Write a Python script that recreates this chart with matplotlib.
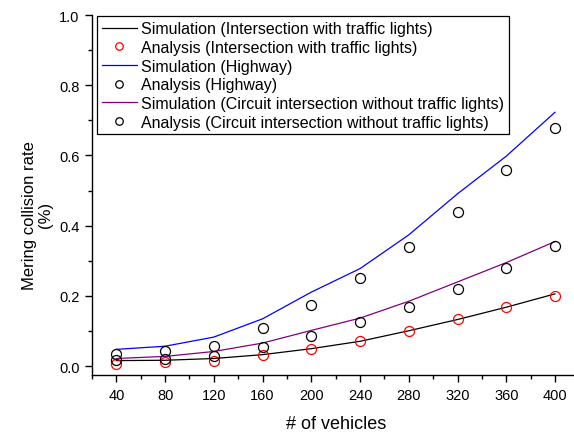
import matplotlib
matplotlib.use('Agg')
import matplotlib.pyplot as plt
from matplotlib.ticker import MultipleLocator, FormatStrFormatter

plt.rcParams['font.family'] = ['Liberation Sans', 'DejaVu Sans']

vehicles = [40, 80, 120, 160, 200, 240, 280, 320, 360, 400]

# intersection with traffic lights
sim_lights = [0.016, 0.017, 0.022, 0.033, 0.050, 0.071, 0.101, 0.133, 0.168, 0.206]
ana_lights = [0.005, 0.011, 0.016, 0.031, 0.050, 0.072, 0.101, 0.134, 0.170, 0.201]

# highway
sim_highway = [0.048, 0.057, 0.083, 0.135, 0.211, 0.278, 0.374, 0.491, 0.598, 0.723]
ana_highway = [0.036, 0.043, 0.057, 0.108, 0.173, 0.251, 0.339, 0.439, 0.560, 0.679]

# circuit intersection without traffic lights
sim_circuit = [0.022, 0.028, 0.042, 0.066, 0.102, 0.137, 0.185, 0.240, 0.295, 0.355]
ana_circuit = [0.018, 0.022, 0.028, 0.054, 0.086, 0.125, 0.170, 0.220, 0.281, 0.342]

fig = plt.figure(figsize=(5.74, 4.35), dpi=100)
# right edge runs past the canvas, so the x axis line is clipped at the border
ax = fig.add_axes([0.1603, 0.1356, 0.849, 0.8276])

mk = dict(marker='o', linestyle='none', markersize=7.2, markerfacecolor='none', markeredgewidth=0.9)
ax.plot(vehicles, sim_lights, color='black', lw=0.9, label='Simulation (Intersection with traffic lights)')
ax.plot(vehicles, ana_lights, color='red', label='Analysis (Intersection with traffic lights)', **mk)
ax.plot(vehicles, sim_highway, color='#0000ff', lw=0.9, label='Simulation (Highway)')
ax.plot(vehicles, ana_highway, color='black', label='Analysis (Highway)', **mk)
ax.plot(vehicles, sim_circuit, color='#800080', lw=0.9, label='Simulation (Circuit intersection without traffic lights)')
ax.plot(vehicles, ana_circuit, color='black', label='Analysis (Circuit intersection without traffic lights)', **mk)

ax.set_xlim(20, 420)
ax.set_ylim(-0.025, 1.0)
ax.set_xticks(vehicles)
ax.xaxis.set_minor_locator(MultipleLocator(20))
ax.yaxis.set_major_locator(MultipleLocator(0.2))
ax.yaxis.set_minor_locator(MultipleLocator(0.1))
ax.yaxis.set_major_formatter(FormatStrFormatter('%.1f'))

ax.spines['top'].set_visible(False)
ax.spines['right'].set_visible(False)
ax.spines['left'].set_linewidth(1.0)
ax.spines['bottom'].set_linewidth(1.0)
ax.tick_params(which='major', direction='out', length=5, width=1.0, labelsize=10.5, pad=4)
ax.tick_params(which='minor', direction='out', length=3, width=1.0)

ax.set_xlabel('# of vehicles', fontsize=13)
ax.set_ylabel('Mering collision rate\n(%)', fontsize=12, linespacing=1.05)
ax.yaxis.set_label_coords(-0.080, 0.447)
ax.xaxis.set_label_coords(0.5, -0.112)

leg = ax.legend(loc='upper left', bbox_to_anchor=(0.0097, 0.996), fontsize=11.5, frameon=True,
                fancybox=False, edgecolor='black', framealpha=1, handlelength=2.25,
                handletextpad=0.25, labelspacing=0.23, borderpad=0.3, borderaxespad=0.0,
                markerscale=0.75)
leg.get_frame().set_linewidth(0.9)

fig.savefig('out.png', dpi=100)
